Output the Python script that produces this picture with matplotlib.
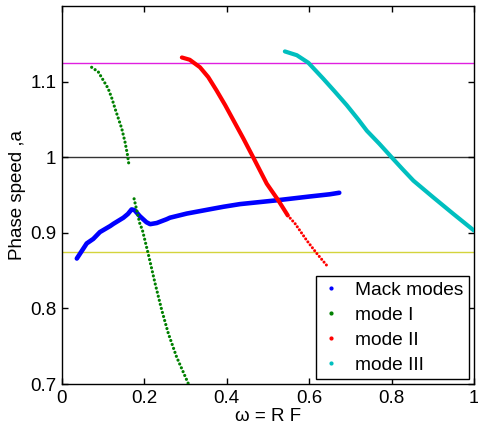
import matplotlib
matplotlib.use("Agg")
import matplotlib.pyplot as plt
from matplotlib.lines import Line2D

plt.rcParams['font.family'] = ['Liberation Sans', 'DejaVu Sans']

# ---- data ----
mack_x = [0.036, 0.060, 0.076, 0.092, 0.117, 0.125, 0.149, 0.160, 0.169, 0.176, 0.189, 0.205, 0.214, 0.230,
          0.254, 0.262, 0.303, 0.367, 0.392, 0.432, 0.521, 0.600, 0.650, 0.673]
mack_y = [0.866, 0.886, 0.892, 0.901, 0.909, 0.912, 0.920, 0.925, 0.931, 0.930, 0.922, 0.914, 0.9115, 0.913,
          0.918, 0.920, 0.9255, 0.932, 0.9345, 0.938, 0.943, 0.948, 0.951, 0.953]

mode1a_x = [0.072, 0.088, 0.100, 0.112, 0.121, 0.129, 0.137, 0.145, 0.153, 0.159, 0.163]
mode1a_y = [1.119, 1.113, 1.102, 1.091, 1.078, 1.064, 1.051, 1.038, 1.020, 1.003, 0.988]
mode1b_x = [0.175, 0.189, 0.195, 0.209, 0.226, 0.242, 0.258, 0.278, 0.307]
mode1b_y = [0.945, 0.912, 0.904, 0.873, 0.833, 0.798, 0.767, 0.736, 0.700]

mode2a_x = [0.291, 0.310, 0.335, 0.355, 0.375, 0.396, 0.416, 0.440, 0.464, 0.497, 0.525, 0.548]
mode2a_y = [1.132, 1.129, 1.119, 1.106, 1.0885, 1.069, 1.049, 1.025, 1.000, 0.965, 0.943, 0.923]
mode2b_x = [0.548, 0.566, 0.594, 0.618, 0.644]
mode2b_y = [0.923, 0.912, 0.890, 0.873, 0.856]

mode3_x = [0.541, 0.570, 0.598, 0.634, 0.662, 0.691, 0.719, 0.740, 0.770, 0.800, 0.827, 0.853, 0.901, 0.950, 1.000]
mode3_y = [1.140, 1.135, 1.125, 1.104, 1.087, 1.069, 1.050, 1.035, 1.018, 1.000, 0.984, 0.969, 0.947, 0.925, 0.903]

ref_levels = [1.125, 1.0, 0.875]
ref_colors = ['#e020e0', '#333333', '#d4d43c']

legend_labels = ['Mack modes', 'mode I', 'mode II', 'mode III']
series_colors = ['#0000ff', '#008000', '#ff0000', '#00bfbf']

xticks = [0, 0.2, 0.4, 0.6, 0.8, 1.0]
xtick_labels = ['0', '0.2', '0.4', '0.6', '0.8', '1']
yticks = [0.7, 0.8, 0.9, 1.0, 1.1]
ytick_labels = ['0.7', '0.8', '0.9', '1', '1.1']

# ---- figure ----
fig = plt.figure(figsize=(4.78, 4.34), dpi=100)
ax = fig.add_axes([0.1297, 0.1152, 0.8619, 0.8708])

for lvl, c in zip(ref_levels, ref_colors):
    ax.axhline(lvl, color=c, lw=1.0, zorder=1)

ax.plot(mack_x, mack_y, color=series_colors[0], lw=3.3, solid_capstyle='round', solid_joinstyle='round', zorder=3)
dot = (0, (0.01, 1.3))
ax.plot(mode1a_x, mode1a_y, color=series_colors[1], lw=2.3, linestyle=dot, dash_capstyle='round', zorder=3)
ax.plot(mode1b_x, mode1b_y, color=series_colors[1], lw=2.3, linestyle=dot, dash_capstyle='round', zorder=3)
ax.plot(mode2a_x, mode2a_y, color=series_colors[2], lw=3.0, solid_capstyle='round', solid_joinstyle='round', zorder=4)
ax.plot(mode2b_x, mode2b_y, color=series_colors[2], lw=2.2, linestyle=(0, (0.01, 1.2)), dash_capstyle='round', zorder=4)
ax.plot(mode3_x, mode3_y, color=series_colors[3], lw=3.0, solid_capstyle='round', solid_joinstyle='round', zorder=3)

ax.set_xlim(0, 1)
ax.set_ylim(0.7, 1.2)
ax.set_xticks(xticks)
ax.set_xticklabels(xtick_labels)
ax.set_yticks(yticks)
ax.set_yticklabels(ytick_labels)
ax.tick_params(direction='in', length=4, width=1, top=True, right=True, labelsize=13.5, pad=4)
for s in ax.spines.values():
    s.set_linewidth(1.0)
ax.set_xlabel('ω = R F', fontsize=13.5, labelpad=1)
ax.set_ylabel('Phase speed ,a', fontsize=13.5, labelpad=3)

handles = [Line2D([], [], color=c, marker='.', linestyle='none', markersize=4) for c in series_colors]
leg = ax.legend(handles, legend_labels, loc='lower right', fontsize=13.8, frameon=True, fancybox=False,
                edgecolor='black', framealpha=1, borderaxespad=0.25, handlelength=1.0,
                handletextpad=0.8, labelspacing=0.4, borderpad=0.28)
leg.get_frame().set_linewidth(1.0)

fig.savefig('out.png', dpi=100)
